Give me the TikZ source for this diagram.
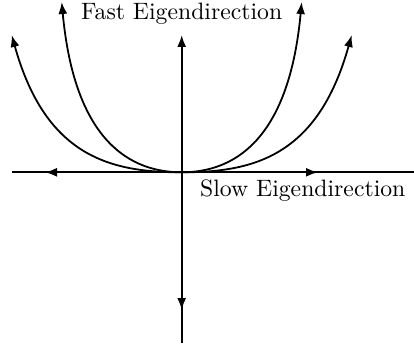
\documentclass[tikz,border=0pt]{standalone}
\usepackage{graphicx}
\usetikzlibrary{arrows.meta}
\begin{document}
\begin{tikzpicture}[x=1pt,y=-1pt,
  ln/.style={line width=1.8pt},
  arr/.style={ln,-{Latex[length=12pt,width=9pt]}},
  lbl/.style={inner sep=0pt,font=\fontsize{10}{12}\selectfont}]
\useasboundingbox (0,0) rectangle (414,350);
\coordinate (O) at (181.7,172.3);
\coordinate (L) at (12,172.3);
\coordinate (R) at (414,172.3);
\coordinate (T) at (181.7,35);
\coordinate (B) at (181.7,343);
\coordinate (la) at (45,172.3);
\coordinate (ra) at (318,172.3);
\coordinate (da) at (181.7,310);
\coordinate (OL) at (11.7,35);
\coordinate (IL) at (61.7,2);
\coordinate (OR) at (351.7,35);
\coordinate (IR) at (301.7,2);
% axes
\draw[ln] (L) -- (R);
\draw[ln] (O) -- (B);
\draw[arr] (O) -- (T);
\draw[arr] (O) -- (la);
\draw[arr] (O) -- (ra);
\draw[arr] (O) -- (da);
% trajectories
\draw[arr] (O) .. controls (110.7,172.3) and (45.7,157) .. (OL);
\draw[arr] (O) .. controls (252.7,172.3) and (317.7,157) .. (OR);
\draw[arr] (O) .. controls (131.7,172.3) and (74.7,143) .. (IL);
\draw[arr] (O) .. controls (231.7,172.3) and (288.7,143) .. (IR);
% labels
\node[lbl,anchor=base] (fast) at (181.7,20) {\scalebox{2.37}{Fast Eigendirection}};
\node[lbl,anchor=base west] (slow) at (200,196.7) {\scalebox{2.37}{Slow Eigendirection}};
\end{tikzpicture}
\end{document}
